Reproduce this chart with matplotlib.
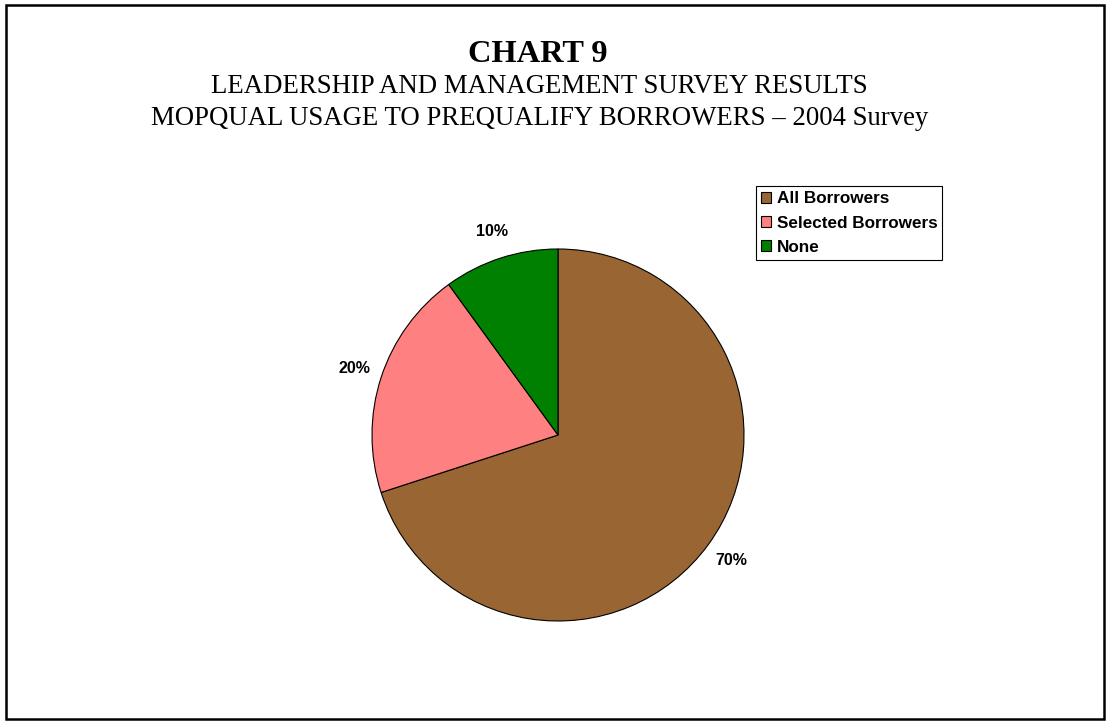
import matplotlib.pyplot as plt
from matplotlib.patches import Patch, Rectangle

# survey answers (percent of respondents)
categories = ['All Borrowers', 'Selected Borrowers', 'None']
shares = [70, 20, 10]
colors = ['#996633', '#FF8080', '#008000']

W, H = 1107, 722
fig = plt.figure(figsize=(W / 100, H / 100), dpi=100)
ax = fig.add_axes([0, 0, 1, 1])

wedges, texts, pcts = ax.pie(
    shares, colors=colors, startangle=90, counterclock=False,
    center=(558, H - 435), radius=186, frame=False,
    autopct=lambda p: f'{p:.0f}%', pctdistance=1.15,
    wedgeprops=dict(edgecolor='black', linewidth=0.8),
    textprops=dict(family='Liberation Sans', fontweight='bold', fontsize=11.5))

ax.set_xlim(0, W)
ax.set_ylim(0, H)
ax.set_aspect('equal')
ax.axis('off')

# titles
serif = 'Liberation Serif'
ax.text(538, H - 62, 'CHART 9', ha='center', va='baseline',
        family=serif, fontweight='bold', fontsize=23.3)
ax.text(539, H - 93, 'LEADERSHIP AND MANAGEMENT SURVEY RESULTS', ha='center',
        va='baseline', family=serif, fontsize=19.3)
ax.text(540, H - 125, 'MOPQUAL USAGE TO PREQUALIFY BORROWERS \u2013 2004 Survey',
        ha='center', va='baseline', family=serif, fontsize=19.3)

# outer border
ax.add_patch(Rectangle((6, 3), 1098, 714, fill=False, edgecolor='black',
                       linewidth=1.8, clip_on=False))

handles = [Patch(facecolor=c, edgecolor='black', linewidth=0.8) for c in colors]
leg = fig.legend(handles, categories, loc='upper left',
                 bbox_to_anchor=(756 / W, 1 - 186 / H),
                 prop=dict(family='Liberation Sans', weight='bold', size=12.3),
                 fancybox=False, framealpha=1, edgecolor='black',
                 handlelength=0.6, handleheight=0.6, handletextpad=0.3,
                 labelspacing=0.55, borderpad=0.3, borderaxespad=0)
leg.get_frame().set_linewidth(0.8)

fig.savefig('out.png', dpi=100)
